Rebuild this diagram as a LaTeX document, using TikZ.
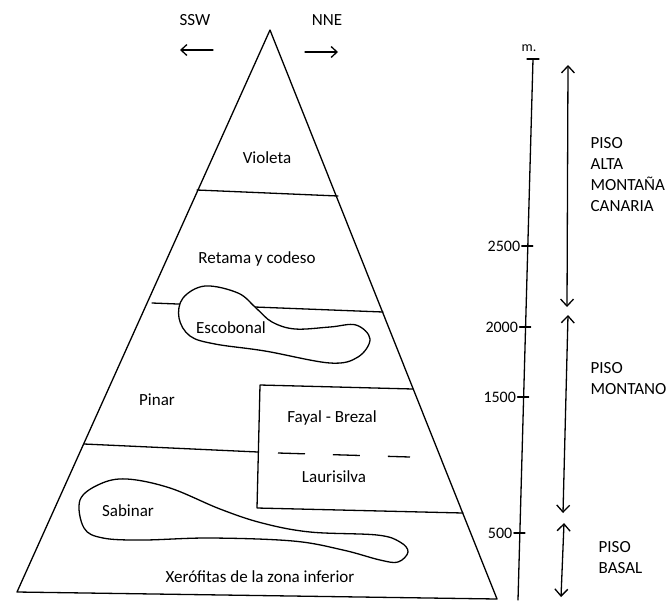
\documentclass[tikz,border=0pt]{standalone}
\usepackage{fontspec}
\setmainfont{Carlito}
\usetikzlibrary{arrows.meta}
\begin{document}
\begin{tikzpicture}[x=1pt,y=-1pt,line width=1.3pt,line join=round,line cap=round,
  lbl/.style={font=\fontsize{17}{21}\selectfont,inner sep=0pt},
  numlbl/.style={font=\fontsize{16}{20}\selectfont,inner sep=0pt,anchor=east},
  pisolbl/.style={font=\fontsize{17}{21}\selectfont,inner sep=0pt,align=left,anchor=north west},
  dbl/.style={{Straight Barb[length=7pt,width=13pt]}-{Straight Barb[length=7pt,width=13pt]}},
  sgl/.style={-{Straight Barb[length=6pt,width=11pt]}},
  blob/.style={fill=white}]
\useasboundingbox (0,0) rectangle (671,600);

% triangle
\coordinate (apex) at (270,30);
\coordinate (bl) at (17,592);
\coordinate (br) at (497,599);
\draw (apex) -- (bl) -- (br) -- cycle;

% direction labels
\node[lbl] (ssw) at (195,20) {SSW};
\node[lbl] (nne) at (327,20) {NNE};
\coordinate (sswa) at (213,50);
\coordinate (sswb) at (180,50);
\coordinate (nnea) at (305,52);
\coordinate (nneb) at (338,52);
\draw[sgl] (sswa) -- (sswb);
\draw[sgl] (nnea) -- (nneb);

% zone boundaries
\coordinate (v1) at (197,190);
\coordinate (v2) at (338,196);
\draw (v1) -- (v2);
\coordinate (r1) at (152,303);
\coordinate (r2) at (383,312);
\draw (r1) -- (r2);
\coordinate (p1) at (84,444);
\coordinate (p2) at (258,452);
\draw (p1) -- (p2);

% Fayal box
\coordinate (f1) at (413,389);
\coordinate (f2) at (260,385);
\coordinate (f3) at (257,508);
\coordinate (f4) at (463,513);
\draw (f1) -- (f2) -- (f3) -- (f4);
\coordinate (d1) at (278,453);
\coordinate (d2) at (410,457);
\draw[line cap=butt,dash pattern=on 27pt off 28pt] (d1) -- (d2);

% Escobonal blob
\draw[blob] plot[smooth cycle,tension=0.6] coordinates {
 (205,286) (183,298) (179,318) (190,336) (215,344) (265,351) (330,363)
 (358,357) (370,339) (356,325) (330,327) (295,329) (272,322) (256,308)
 (238,293)};

% Sabinar blob
\draw[blob] plot[smooth cycle,tension=0.6] coordinates {
 (80,500) (100,484) (127,479) (170,488) (220,509) (262,523) (310,532)
 (377,535) (400,542) (408,552) (398,562) (380,560) (343,550) (293,541)
 (210,538) (143,540) (103,538) (84,528)};

% labels
\node[lbl] (violeta) at (267,158) {Violeta};
\node[lbl] (retama) at (257,259) {Retama y codeso};
\node[lbl] (escobonal) at (231,328) {Escobonal};
\node[lbl] (pinar) at (157,400) {Pinar};
\node[lbl] (fayal) at (332,418) {Fayal - Brezal};
\node[lbl] (lauri) at (334,477) {Laurisilva};
\node[lbl] (sabinar) at (128,511) {Sabinar};
\node[lbl] (xero) at (260,577) {Xerófitas de la zona inferior};

% altitude scale
\coordinate (ax1) at (533,59);
\coordinate (ax2) at (518,600);
\draw (ax1) -- (ax2);
\coordinate (tm1) at (527,59);
\coordinate (tm2) at (539,59);
\draw (tm1) -- (tm2);
\node[lbl,font=\fontsize{14}{17}\selectfont] (mlbl) at (529,48) {m.};

\foreach \y/\x/\t in {246/527.8/2500, 327/525.6/2000, 397/523.6/1500, 533/519.9/500}{
  \coordinate (tk\t a) at (\x-6,\y);
  \coordinate (tk\t b) at (\x+5,\y);
  \draw (tk\t a) -- (tk\t b);
  \node[numlbl] (n\t) at (\x-7,\y) {\t};
}

% floor arrows
\coordinate (a1t) at (568,65);
\coordinate (a1b) at (567,307);
\coordinate (a2t) at (568,315);
\coordinate (a2b) at (563,513);
\coordinate (a3t) at (564,523);
\coordinate (a3b) at (561,597);
\draw[dbl] (a1t) -- (a1b);
\draw[dbl] (a2t) -- (a2b);
\draw[dbl] (a3t) -- (a3b);

\node[pisolbl] (alta) at (590,137) {PISO\\ALTA\\MONTAÑA\\CANARIA};
\node[pisolbl] (montano) at (590,362) {PISO\\MONTANO};
\node[pisolbl] (basal) at (598,541) {PISO\\BASAL};
\end{tikzpicture}
\end{document}
